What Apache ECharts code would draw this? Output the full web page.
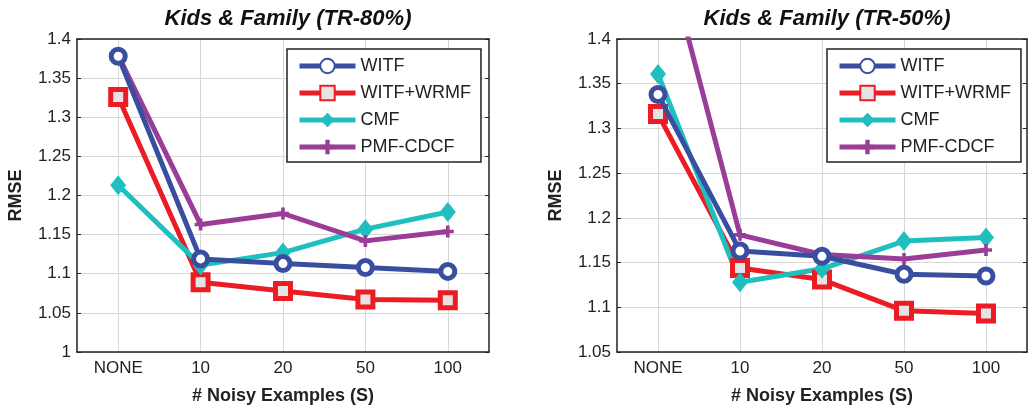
<!DOCTYPE html>
<html>
<head>
<meta charset="utf-8">
<script src="https://cdn.jsdelivr.net/npm/echarts@6/dist/echarts.min.js"></script>
<style>
html, body { margin: 0; padding: 0; background: #fff; }
#main { width: 1034px; height: 410px; }
</style>
</head>
<body>
<div id="main"></div>
<script>
var categories = ['NONE', '10', '20', '50', '100'];
var names = ['WITF', 'WITF+WRMF', 'CMF', 'PMF-CDCF'];

// TR-80%
var witf80 = [1.378, 1.119, 1.113, 1.108, 1.103];
var wrmf80 = [1.326, 1.089, 1.078, 1.067, 1.066];
var cmf80 = [1.213, 1.111, 1.127, 1.157, 1.179];
var pmf80 = [1.379, 1.163, 1.177, 1.142, 1.154];

// TR-50%
var witf50 = [1.338, 1.163, 1.157, 1.137, 1.135];
var wrmf50 = [1.316, 1.144, 1.131, 1.096, 1.093];
var cmf50 = [1.361, 1.128, 1.143, 1.174, 1.178];
var pmf50 = [1.53, 1.181, 1.159, 1.154, 1.164];

var dom = document.getElementById('main');
var myChart = echarts.init(dom, null, {renderer: 'canvas'});

var font = 'Liberation Sans, Arial, sans-serif';
var colors = ['#3a4ea0', '#ec1c24', '#1fbfbf', '#9a3d97'];
var plusPath = 'path://M3.5,0H6.5V3.5H10V6.5H6.5V10H3.5V6.5H0V3.5H3.5Z';

function makeSeries(idx, arrs) {
    var styles = [
        {symbol: 'circle', symbolSize: 14, itemStyle: {color: '#fff', borderColor: colors[0], borderWidth: 5}},
        {symbol: 'rect', symbolSize: 15, itemStyle: {color: '#e4e4e4', borderColor: colors[1], borderWidth: 5}},
        {symbol: 'diamond', symbolSize: [16, 20], itemStyle: {color: colors[2], borderWidth: 0}},
        {symbol: plusPath, symbolSize: 12, itemStyle: {color: colors[3], borderWidth: 0}}
    ];
    return arrs.map(function (d, i) {
        return {
            name: names[i],
            type: 'line',
            xAxisIndex: idx * 2,
            yAxisIndex: idx * 2,
            data: d,
            symbol: styles[i].symbol,
            symbolSize: styles[i].symbolSize,
            showAllSymbol: true,
            clip: true,
            lineStyle: {color: colors[i], width: 5},
            itemStyle: styles[i].itemStyle,
            emphasis: {disabled: true},
            z: 2 + (i === 0 ? 1 : 0)
        };
    });
}

function xAxes(gi) {
    return [{
        type: 'category', gridIndex: gi, data: categories, boundaryGap: true,
        name: '# Noisy Examples (S)', nameLocation: 'middle', nameGap: 35,
        nameTextStyle: {fontFamily: font, fontWeight: 'bold', fontSize: 18, color: '#222'},
        axisLine: {lineStyle: {color: '#222', width: 1.5}},
        axisTick: {inside: true, alignWithLabel: true, length: 4, lineStyle: {color: '#222'}},
        axisLabel: {fontFamily: font, fontSize: 17, color: '#222', margin: 8},
        splitLine: {show: true, alignWithLabel: true, lineStyle: {color: '#d8d8d8', width: 1}}
    }, {
        type: 'category', gridIndex: gi, data: categories, boundaryGap: true, position: 'top',
        axisLine: {lineStyle: {color: '#222', width: 1.5}},
        axisTick: {inside: true, alignWithLabel: true, length: 4, lineStyle: {color: '#222'}},
        axisLabel: {show: false},
        splitLine: {show: false}
    }];
}

function yAxes(gi, min) {
    return [{
        type: 'value', gridIndex: gi, min: min, max: 1.4, interval: 0.05,
        name: 'RMSE', nameLocation: 'middle', nameGap: 52, nameRotate: 90,
        nameTextStyle: {fontFamily: font, fontWeight: 'bold', fontSize: 18, color: '#222'},
        axisLine: {show: true, lineStyle: {color: '#222', width: 1.5}},
        axisTick: {show: true, inside: true, length: 4, lineStyle: {color: '#222'}},
        axisLabel: {fontFamily: font, fontSize: 17, color: '#222', margin: 6},
        splitLine: {show: true, lineStyle: {color: '#d8d8d8', width: 1}}
    }, {
        type: 'value', gridIndex: gi, min: min, max: 1.4, interval: 0.05, position: 'right',
        axisLine: {show: true, lineStyle: {color: '#222', width: 1.5}},
        axisTick: {show: true, inside: true, length: 4, lineStyle: {color: '#222'}},
        axisLabel: {show: false},
        splitLine: {show: false}
    }];
}

var legendBase = {
    orient: 'vertical',
    data: names,
    itemWidth: 56,
    itemHeight: 18,
    itemGap: 9,
    padding: [8, 10, 6, 10],
    borderColor: '#222',
    borderWidth: 1.5,
    backgroundColor: '#fff',
    lineStyle: {width: 5},
    textStyle: {fontFamily: font, fontSize: 18, color: '#222'},
    selectedMode: false
};

var option = {
    animation: false,
    backgroundColor: '#fff',
    title: [
        {text: 'Kids & Family (TR-80%)', left: 283, top: 3, textAlign: 'center',
         textStyle: {fontFamily: font, fontSize: 22, fontWeight: 'bold', fontStyle: 'italic', color: '#111'}},
        {text: 'Kids & Family (TR-50%)', left: 822, top: 3, textAlign: 'center',
         textStyle: {fontFamily: font, fontSize: 22, fontWeight: 'bold', fontStyle: 'italic', color: '#111'}}
    ],
    legend: [
        Object.assign({}, legendBase, {left: 287, top: 49, width: 195}),
        Object.assign({}, legendBase, {left: 827, top: 49, width: 195})
    ],
    grid: [
        {left: 77, right: 545, top: 39, bottom: 55, show: false},
        {left: 617, right: 7, top: 39, bottom: 55, show: false}
    ],
    xAxis: xAxes(0).concat(xAxes(1)),
    yAxis: yAxes(0, 1).concat(yAxes(1, 1.05)),
    series: makeSeries(0, [witf80, wrmf80, cmf80, pmf80])
        .concat(makeSeries(1, [witf50, wrmf50, cmf50, pmf50]))
};

if (option && typeof option === "object") {
    myChart.setOption(option, true);
}
</script>
</body>
</html>
